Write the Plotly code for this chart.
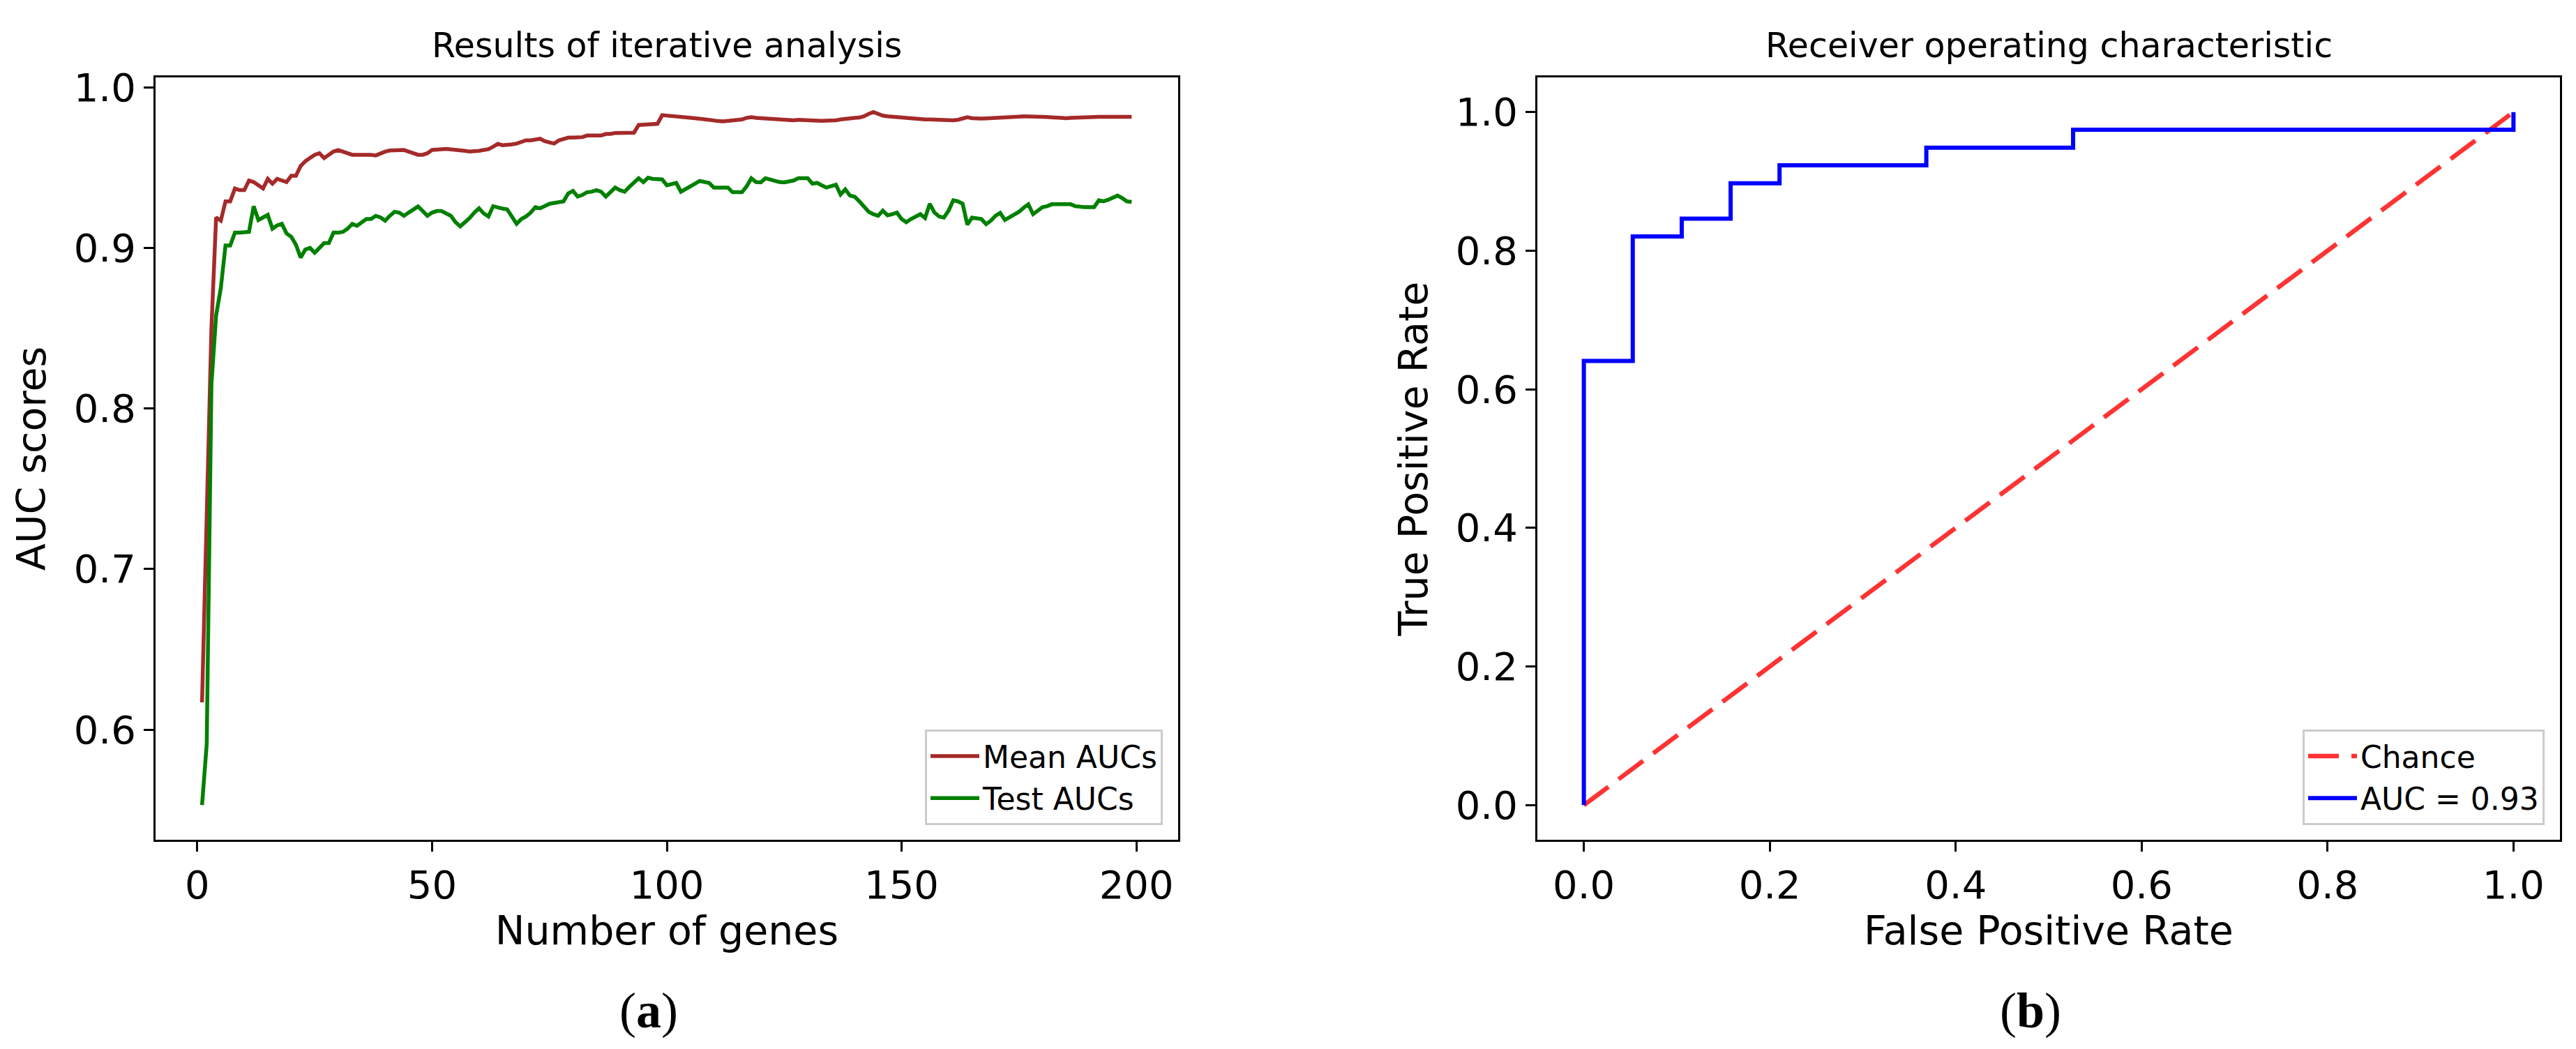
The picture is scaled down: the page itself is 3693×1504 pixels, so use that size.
import plotly.graph_objects as go

# ---------------- data ----------------
genes = list(range(1, 200))

mean_aucs = [
    0.617, 0.735, 0.850, 0.919, 0.917, 0.929, 0.929, 0.937, 0.936, 0.936,
    0.942, 0.941, 0.939, 0.937, 0.943, 0.940, 0.943, 0.942, 0.941, 0.945,
    0.945, 0.951, 0.954, 0.956, 0.958, 0.959, 0.956, 0.958, 0.960, 0.961,
    0.960, 0.959, 0.958, 0.958, 0.958, 0.9585, 0.958, 0.9576, 0.959, 0.960,
    0.9607, 0.961, 0.961, 0.961, 0.960, 0.959, 0.958, 0.958, 0.959, 0.961,
    0.961, 0.9615, 0.9617, 0.9615, 0.961, 0.961, 0.9605, 0.960, 0.960, 0.9605,
    0.961, 0.9615, 0.963, 0.9648, 0.964, 0.964, 0.9645, 0.965, 0.966, 0.967,
    0.967, 0.9675, 0.968, 0.9665, 0.9655, 0.965, 0.967, 0.968, 0.9687, 0.9687,
    0.9687, 0.969, 0.970, 0.970, 0.9697, 0.970, 0.971, 0.971, 0.9716, 0.9716,
    0.9718, 0.9716, 0.9718, 0.9766, 0.9768, 0.977, 0.977, 0.9773, 0.9827, 0.9825,
    0.982, 0.9818, 0.9817, 0.9817, 0.981, 0.9808, 0.9805, 0.980, 0.9798, 0.9795,
    0.979, 0.9788, 0.979, 0.9795, 0.9798, 0.980, 0.981, 0.9814, 0.981, 0.9808,
    0.9805, 0.9805, 0.980, 0.9797, 0.9795, 0.9792, 0.9795, 0.9798, 0.9798, 0.9798,
    0.9795, 0.9793, 0.9792, 0.9792, 0.9792, 0.9795, 0.980, 0.9805, 0.9808, 0.981,
    0.9812, 0.982, 0.9835, 0.9846, 0.9835, 0.9824, 0.982, 0.9817, 0.9815, 0.9812,
    0.981, 0.9808, 0.9806, 0.9803, 0.980, 0.980, 0.9798, 0.9797, 0.9796, 0.9795,
    0.9795, 0.9798, 0.9805, 0.9814, 0.9808, 0.9805, 0.9806, 0.9807, 0.9808, 0.9808,
    0.981, 0.981, 0.9813, 0.9815, 0.9818, 0.982, 0.982, 0.9818, 0.9817, 0.9817,
    0.9815, 0.9813, 0.981, 0.9807, 0.9808, 0.981, 0.9812, 0.9813, 0.9815, 0.9816,
    0.9817, 0.9817, 0.9817, 0.9818, 0.9817, 0.9817, 0.9818, 0.9817, 0.9817,
]

test_aucs = [
    0.553, 0.591, 0.815, 0.858, 0.875, 0.9015, 0.9015, 0.9095, 0.9095, 0.9095,
    0.910, 0.926, 0.9174, 0.919, 0.9206, 0.912, 0.914, 0.915, 0.909, 0.907,
    0.902, 0.894, 0.899, 0.900, 0.897, 0.900, 0.903, 0.903, 0.9095, 0.9095,
    0.910, 0.912, 0.915, 0.9138, 0.916, 0.918, 0.918, 0.920, 0.919, 0.917,
    0.920, 0.9225, 0.922, 0.920, 0.922, 0.924, 0.9258, 0.923, 0.920, 0.922,
    0.923, 0.923, 0.9218, 0.920, 0.916, 0.9134, 0.916, 0.9186, 0.922, 0.9247,
    0.9215, 0.9196, 0.926, 0.925, 0.9245, 0.924, 0.920, 0.915, 0.918, 0.9196,
    0.922, 0.9254, 0.9247, 0.926, 0.9275, 0.928, 0.9285, 0.929, 0.934, 0.9355,
    0.932, 0.933, 0.9347, 0.935, 0.936, 0.935, 0.932, 0.935, 0.9376, 0.936,
    0.935, 0.938, 0.941, 0.9434, 0.941, 0.9437, 0.943, 0.9427, 0.9427, 0.939,
    0.940, 0.9405, 0.935, 0.9365, 0.9384, 0.940, 0.9417, 0.941, 0.9405, 0.9376,
    0.9376, 0.9376, 0.9376, 0.9347, 0.9347, 0.9347, 0.9384, 0.9434, 0.941, 0.9408,
    0.9434, 0.9425, 0.9417, 0.941, 0.9408, 0.9412, 0.942, 0.9434, 0.9434, 0.9434,
    0.940, 0.9405, 0.939, 0.9376, 0.9385, 0.9394, 0.9333, 0.9365, 0.9326, 0.9319,
    0.929, 0.926, 0.9225, 0.921, 0.920, 0.9232, 0.9203, 0.921, 0.922, 0.918,
    0.916, 0.918, 0.9196, 0.921, 0.9186, 0.9275, 0.922, 0.9196, 0.9189, 0.9232,
    0.9297, 0.929, 0.9275, 0.9145, 0.9189, 0.9185, 0.918, 0.9148, 0.917, 0.920,
    0.9218, 0.9174, 0.919, 0.9206, 0.9225, 0.925, 0.9272, 0.921, 0.923, 0.9254,
    0.926, 0.9272, 0.9272, 0.9272, 0.9272, 0.9272, 0.926, 0.9254, 0.9254, 0.9254,
    0.9254, 0.9297, 0.929, 0.930, 0.931, 0.9326, 0.931, 0.929, 0.9287,
]

roc_fpr = [0.0, 0.0, 0.0526, 0.1053, 0.1579, 0.2105, 0.3684, 0.5263, 1.0, 1.0]
roc_tpr = [0.0, 0.641, 0.8205, 0.8462, 0.8974, 0.9231, 0.9487, 0.9744, 0.9744, 1.0]
chance_x = [0.0, 1.0]
chance_y = [0.0, 1.0]
roc_auc = 0.93

left_xticks = [0, 50, 100, 150, 200]
left_yticks = [0.6, 0.7, 0.8, 0.9, 1.0]
roc_ticks = [0.0, 0.2, 0.4, 0.6, 0.8, 1.0]

# ---------------- figure ----------------
W, H = 3693, 1504
FONT = "DejaVu Sans"

fig = go.Figure()
fig.add_trace(go.Scatter(x=genes, y=mean_aucs, mode="lines", name="Mean AUCs",
                         line=dict(color="#A52A2A", width=5.5),
                         xaxis="x", yaxis="y", legend="legend"))
fig.add_trace(go.Scatter(x=genes, y=test_aucs, mode="lines", name="Test AUCs",
                         line=dict(color="#008000", width=5.5),
                         xaxis="x", yaxis="y", legend="legend"))
fig.add_trace(go.Scatter(x=chance_x, y=chance_y, mode="lines", name="Chance",
                         line=dict(color="rgba(255,0,0,0.8)", width=6.5, dash="44px,18px"),
                         xaxis="x2", yaxis="y2", legend="legend2"))
fig.add_trace(go.Scatter(x=roc_fpr, y=roc_tpr, mode="lines",
                         name="AUC = %0.2f" % roc_auc,
                         line=dict(color="#0000FF", width=6, shape="hv"),
                         xaxis="x2", yaxis="y2", legend="legend2"))

y_dom = [1 - 1196 / H, 1 - 103 / H]

axis_common = dict(
    showline=True, mirror=True, linecolor="black", linewidth=3,
    ticks="outside", ticklen=14, tickwidth=3, tickcolor="black",
    showgrid=False, zeroline=False,
    tickfont=dict(family=FONT, size=56, color="black"),
    automargin=False,
)

legend_common = dict(
    xanchor="right", yanchor="bottom",
    bgcolor="rgba(255,255,255,0.8)", bordercolor="#cccccc", borderwidth=3,
    font=dict(family=FONT, size=44, color="black"),
    itemwidth=70,
)

fig.update_layout(
    width=W, height=H,
    margin=dict(l=0, r=0, t=0, b=0),
    paper_bgcolor="white", plot_bgcolor="white",
    font=dict(family=FONT, color="black"),
    xaxis=dict(axis_common, domain=[215 / W, 1681 / W], range=[-8.9, 208.9],
               tickvals=left_xticks, anchor="y",
               title=dict(text="Number of genes", font=dict(family=FONT, size=57), standoff=2)),
    yaxis=dict(axis_common, domain=y_dom, range=[0.5314, 1.0062],
               tickvals=left_yticks, tickformat=".1f", anchor="x",
               title=dict(text="AUC scores", font=dict(family=FONT, size=57), standoff=22)),
    xaxis2=dict(axis_common, domain=[2196 / W, 3662 / W], range=[-0.05, 1.05],
                tickvals=roc_ticks, tickformat=".1f", anchor="y2",
                title=dict(text="False Positive Rate", font=dict(family=FONT, size=57), standoff=2)),
    yaxis2=dict(axis_common, domain=y_dom, range=[-0.05, 1.05],
                tickvals=roc_ticks, tickformat=".1f", anchor="x2",
                title=dict(text="True Positive Rate", font=dict(family=FONT, size=57), standoff=22)),
    legend=dict(legend_common, x=1659 / W, y=1 - 1175 / H),
    legend2=dict(legend_common, x=3640 / W, y=1 - 1175 / H),
    showlegend=True,
)

annotations = [
    dict(text="Results of iterative analysis", x=948 / W, y=1 - 88 / H,
         xref="paper", yref="paper", xanchor="center", yanchor="bottom",
         showarrow=False, font=dict(family=FONT, size=49, color="black")),
    dict(text="Receiver operating characteristic", x=2929 / W, y=1 - 88 / H,
         xref="paper", yref="paper", xanchor="center", yanchor="bottom",
         showarrow=False, font=dict(family=FONT, size=49, color="black")),
    dict(text="(<b>a</b>)", x=922 / W, y=1 - 1441 / H,
         xref="paper", yref="paper", xanchor="center", yanchor="middle",
         showarrow=False, font=dict(family="Liberation Serif", size=72, color="black")),
    dict(text="(<b>b</b>)", x=2903 / W, y=1 - 1441 / H,
         xref="paper", yref="paper", xanchor="center", yanchor="middle",
         showarrow=False, font=dict(family="Liberation Serif", size=72, color="black")),
]
fig.update_layout(annotations=annotations)

fig.write_html("out.html")
